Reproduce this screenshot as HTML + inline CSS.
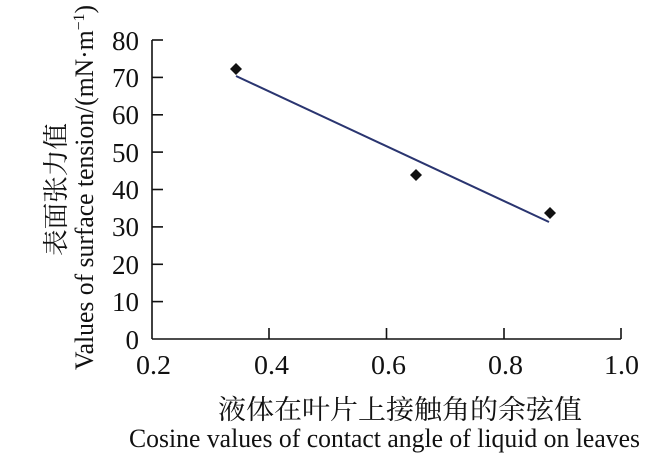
<!DOCTYPE html>
<html><head><meta charset="utf-8"><style>
html,body{margin:0;padding:0;background:#fff;}
svg{display:block;}
text{font-family:"Liberation Serif","Noto Serif CJK SC",serif;fill:#111;}
</style></head><body>
<svg width="669" height="466" viewBox="0 0 669 466" xmlns="http://www.w3.org/2000/svg">
<g stroke="#111" stroke-width="1.6" fill="none">
<line x1="152" y1="40" x2="152" y2="339"/>
<line x1="152" y1="339" x2="621" y2="339"/>
<line x1="152" y1="40" x2="163" y2="40"/>
<line x1="152" y1="77.4" x2="163" y2="77.4"/>
<line x1="152" y1="114.8" x2="163" y2="114.8"/>
<line x1="152" y1="152.1" x2="163" y2="152.1"/>
<line x1="152" y1="189.5" x2="163" y2="189.5"/>
<line x1="152" y1="226.9" x2="163" y2="226.9"/>
<line x1="152" y1="264.3" x2="163" y2="264.3"/>
<line x1="152" y1="301.6" x2="163" y2="301.6"/>
<line x1="269" y1="339" x2="269" y2="328"/>
<line x1="386.5" y1="339" x2="386.5" y2="328"/>
<line x1="504" y1="339" x2="504" y2="328"/>
<line x1="621" y1="339" x2="621" y2="328"/>
</g>
<g font-size="27" text-anchor="end">
<text x="139" y="50" textLength="27" lengthAdjust="spacingAndGlyphs">80</text>
<text x="139" y="87" textLength="27" lengthAdjust="spacingAndGlyphs">70</text>
<text x="139" y="124" textLength="27" lengthAdjust="spacingAndGlyphs">60</text>
<text x="139" y="162" textLength="27" lengthAdjust="spacingAndGlyphs">50</text>
<text x="139" y="199" textLength="27" lengthAdjust="spacingAndGlyphs">40</text>
<text x="139" y="236" textLength="27" lengthAdjust="spacingAndGlyphs">30</text>
<text x="139" y="274" textLength="27" lengthAdjust="spacingAndGlyphs">20</text>
<text x="139" y="311" textLength="27" lengthAdjust="spacingAndGlyphs">10</text>
<text x="139" y="349">0</text>
</g>
<g font-size="27">
<text x="136" y="374" textLength="35" lengthAdjust="spacingAndGlyphs">0.2</text>
<text x="254" y="374" textLength="35" lengthAdjust="spacingAndGlyphs">0.4</text>
<text x="371" y="374" textLength="35" lengthAdjust="spacingAndGlyphs">0.6</text>
<text x="488" y="374" textLength="35" lengthAdjust="spacingAndGlyphs">0.8</text>
<text x="604" y="374" textLength="35" lengthAdjust="spacingAndGlyphs">1.0</text>
</g>
<line x1="236" y1="76" x2="549" y2="222" stroke="#2a3570" stroke-width="2"/>
<g fill="#111">
<polygon points="236,63 242,69 236,75 230,69"/>
<polygon points="416,169 422,175 416,181 410,175"/>
<polygon points="550,207 556,213 550,219 544,213"/>
</g>
<text x="218" y="419" font-size="27" textLength="364" lengthAdjust="spacingAndGlyphs">液体在叶片上接触角的余弦值</text>
<text x="129" y="447" font-size="26" textLength="511" lengthAdjust="spacingAndGlyphs">Cosine values of contact angle of liquid on leaves</text>
<text transform="translate(65,256) rotate(-90)" font-size="26" textLength="133" lengthAdjust="spacingAndGlyphs">表面张力值</text>
<text transform="translate(93,370) rotate(-90)" font-size="26" textLength="365" lengthAdjust="spacingAndGlyphs">Values of surface tension/(mN·m<tspan font-size="16" dy="-9">−1</tspan><tspan dy="9">)</tspan></text>
</svg>
</body></html>
